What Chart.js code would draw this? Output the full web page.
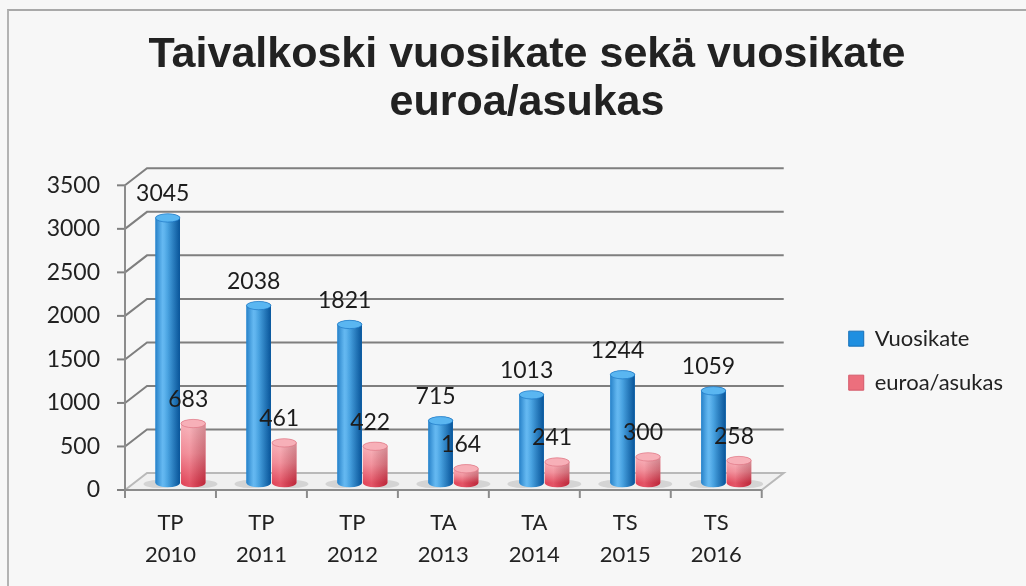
<!DOCTYPE html>
<html><head><meta charset="utf-8">
<script src="https://cdn.jsdelivr.net/npm/chart.js@4.4.1/dist/chart.umd.min.js"></script>
<style>
html,body{margin:0;padding:0;background:#f7f7f7;}
#wrap{position:relative;width:1026px;height:586px;overflow:hidden;background:#f7f7f7;}
#frame{position:absolute;left:7px;top:9px;right:-5px;bottom:-5px;border-top:2px solid #a9a9a9;border-left:2px solid #b3b3b3;}
canvas{position:absolute;left:0;top:0;}
</style></head><body>
<div id="wrap"><div id="frame"></div><canvas id="c" width="1026" height="586" style="width:1026px;height:586px"></canvas></div>
<script>
const categories = [["TP","2010"],["TP","2011"],["TP","2012"],["TA","2013"],["TA","2014"],["TS","2015"],["TS","2016"]];
const vuosikate = [3045, 2038, 1821, 715, 1013, 1244, 1059];
const euroaAsukas = [683, 461, 422, 164, 241, 300, 258];
const seriesNames = ["Vuosikate", "euroa/asukas"];
const titleLines = ["Taivalkoski vuosikate sekä vuosikate", "euroa/asukas"];
const yMax = 3500, yStep = 500;

const DX = 22, DY = 17, BX = 10, BY = -7;
const BLUE = '#1f8fe0', RED = '#ec6f7d';

function barGeom(el){ return el.getProps(['x','y','base','width'], true); }

function drawCyl(ctx, el, kind){
  const {x, y, base, width} = barGeom(el);
  const l = x - width/2, r = x + width/2, rx = width/2, ry = Math.max(3, width*0.17);
  let g;
  if (kind === 0) {
    g = ctx.createLinearGradient(l, 0, r, 0);
    g.addColorStop(0, '#0f73c2');
    g.addColorStop(0.28, '#45aaee');
    g.addColorStop(0.5, '#2f9be6');
    g.addColorStop(1, '#0a62b2');
  } else {
    g = ctx.createLinearGradient(0, y, 0, base);
    g.addColorStop(0, '#f6a6af');
    g.addColorStop(0.5, '#ef7b88');
    g.addColorStop(1, '#de3046');
  }
  ctx.beginPath();
  ctx.moveTo(l, y); ctx.lineTo(l, base);
  ctx.ellipse(x, base, rx, ry, 0, Math.PI, 0, true);
  ctx.lineTo(r, y);
  ctx.ellipse(x, y, rx, ry, 0, 0, Math.PI, true);
  ctx.closePath();
  ctx.fillStyle = g; ctx.fill();
  const h = ctx.createLinearGradient(l, 0, r, 0);
  h.addColorStop(0, 'rgba(255,255,255,0.10)');
  h.addColorStop(0.35, 'rgba(255,255,255,0.18)');
  h.addColorStop(1, 'rgba(0,0,0,0.14)');
  ctx.fillStyle = h; ctx.fill();
  ctx.beginPath();
  ctx.ellipse(x, y, rx, ry, 0, 0, Math.PI*2);
  ctx.fillStyle = kind === 0 ? '#5ab6f1' : '#f7b0b8';
  ctx.fill();
  ctx.strokeStyle = kind === 0 ? 'rgba(20,110,190,0.6)' : 'rgba(220,110,125,0.6)';
  ctx.lineWidth = 1; ctx.stroke();
}

const depthPlugin = {
  id: 'depth',
  beforeDatasetsDraw(chart){
    const {ctx, chartArea: a, scales: {y}} = chart;
    ctx.save();
    ctx.lineWidth = 2;
    ctx.beginPath();
    ctx.moveTo(a.left, a.bottom); ctx.lineTo(a.left + DX, a.bottom - DY);
    ctx.lineTo(a.right + DX, a.bottom - DY); ctx.lineTo(a.right, a.bottom); ctx.closePath();
    ctx.fillStyle = 'rgba(238,238,238,0.9)'; ctx.fill();
    ctx.strokeStyle = '#b9b9b9'; ctx.stroke();
    ctx.strokeStyle = '#7f7f7f';
    y.ticks.forEach(t => {
      const py = y.getPixelForValue(t.value);
      if (t.value !== 0) {
        ctx.beginPath();
        ctx.moveTo(a.left, py); ctx.lineTo(a.left + DX, py - DY); ctx.lineTo(a.right + DX, py - DY);
        ctx.stroke();
      }
      ctx.beginPath(); ctx.moveTo(a.left - 8, py); ctx.lineTo(a.left, py); ctx.stroke();
    });
    ctx.strokeStyle = '#8c8c8c';
    ctx.beginPath(); ctx.moveTo(a.left, a.top); ctx.lineTo(a.left, a.bottom); ctx.lineTo(a.right, a.bottom); ctx.stroke();
    const n = chart.data.labels.length, cw = (a.right - a.left) / n;
    for (let i = 0; i <= n; i++) {
      const px = a.left + i * cw;
      ctx.beginPath(); ctx.moveTo(px, a.bottom); ctx.lineTo(px, a.bottom + 8); ctx.stroke();
    }
    chart.data.datasets.forEach((ds, di) => {
      chart.getDatasetMeta(di).data.forEach(el => {
        const {x: bx, base, width} = barGeom(el);
        ctx.beginPath();
        ctx.ellipse(bx + BX + (di === 0 ? -9 : 9), base + BY + 1, width/2 + 3, 4, 0, 0, Math.PI*2);
        ctx.fillStyle = 'rgba(160,160,160,0.35)'; ctx.fill();
      });
    });
    ctx.restore();
    ctx.save();
    ctx.translate(BX, BY);
  },
  afterDatasetsDraw(chart){
    const ctx = chart.ctx;
    chart.data.datasets.forEach((ds, di) => {
      chart.getDatasetMeta(di).data.forEach(el => drawCyl(ctx, el, di));
    });
    ctx.restore();
    ctx.save();
    ctx.font = '23px Lato';
    ctx.fillStyle = '#1c1c1c';
    ctx.textAlign = 'center'; ctx.textBaseline = 'middle';
    chart.data.datasets.forEach((ds, di) => {
      chart.getDatasetMeta(di).data.forEach((el, i) => {
        const {x: bx, y: by} = barGeom(el);
        ctx.fillText(String(ds.data[i]), bx + BX - 5, by + BY - 24);
      });
    });
    ctx.restore();
  }
};

new Chart(document.getElementById('c'), {
  type: 'bar',
  data: {
    labels: categories,
    datasets: [
      { label: seriesNames[0], data: vuosikate, backgroundColor: BLUE, borderWidth: 0, clip: false,
        categoryPercentage: 0.56, barPercentage: 0.96 },
      { label: seriesNames[1], data: euroaAsukas, backgroundColor: RED, borderWidth: 0, clip: false,
        categoryPercentage: 0.56, barPercentage: 0.96 }
    ]
  },
  options: {
    responsive: false,
    animation: false,
    layout: { padding: { left: 41, right: 13, top: 0, bottom: 0 } },
    plugins: {
      title: {
        display: true, text: titleLines, color: '#222',
        font: { family: "'Liberation Sans',Arial,sans-serif", size: 43, weight: 'bold', lineHeight: 1.12 },
        padding: { top: 31, bottom: 58 }
      },
      legend: {
        position: 'right', fullSize: false, maxWidth: 320,
        title: { display: true, text: ' ', color: 'rgba(0,0,0,0)', font: { size: 10 }, padding: { top: 17, bottom: 17 } },
        labels: {
          color: '#222', font: { family: 'Lato', size: 22 }, boxWidth: 15, boxHeight: 15, padding: 22,
          generateLabels(chart){
            return chart.data.datasets.map((ds, i) => ({
              text: ds.label, fillStyle: i === 0 ? BLUE : RED, fontColor: '#222',
              strokeStyle: i === 0 ? '#1670b8' : '#d4596a', lineWidth: 1, datasetIndex: i, hidden: false
            }));
          }
        }
      },
      tooltip: { enabled: false }
    },
    scales: {
      x: {
        grid: { display: false, drawTicks: false }, border: { display: false },
        ticks: { color: '#222', font: { family: 'Lato', size: 22, lineHeight: 1.45 }, padding: 17, maxRotation: 0 },
        afterFit(s){ s.height = 96; }
      },
      y: {
        min: 0, max: yMax,
        grid: { display: false, drawTicks: false }, border: { display: false },
        ticks: { stepSize: yStep, color: '#222', font: { family: 'Lato', size: 23 }, padding: 25,
                 callback: v => String(v) },
        afterFit(s){ s.width = 84; }
      },
      yr: {
        type: 'linear', position: 'right', display: true,
        grid: { display: false, drawTicks: false }, border: { display: false },
        ticks: { display: false },
        afterFit(s){ s.width = 65; }
      }
    }
  },
  plugins: [depthPlugin]
});
</script>
</body></html>
